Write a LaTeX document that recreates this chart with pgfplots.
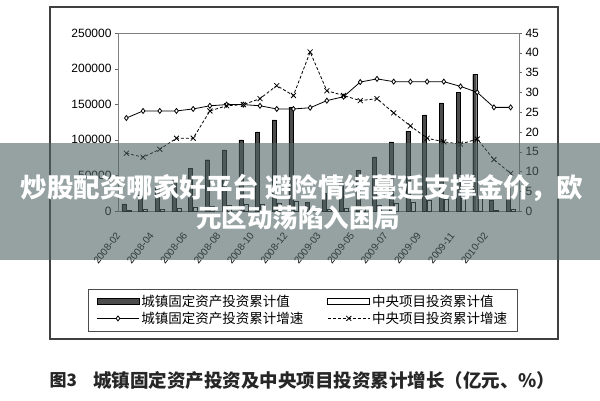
\documentclass[border=0pt]{standalone}
\usepackage{pgfplots}
\pgfplotsset{compat=1.18}
\usepackage{fontspec}
\setmainfont{Liberation Sans}
\newfontfamily\cjk{Noto Sans CJK SC}
\begin{document}
\begin{tikzpicture}
\fill[white] (0pt,0pt) rectangle (600pt,400pt);
\draw[line width=1.6pt, black!75] (50pt,61pt) rectangle (558pt,393pt);
\begin{axis}[
  at={(118pt,189pt)}, anchor=south west, scale only axis, width=401pt, height=178pt,
  xmin=-0.5, xmax=23.5, ymin=0, ymax=250000,
  ytick={0,50000,100000,150000,200000,250000},
  scaled y ticks=false,
  /pgf/number format/assume math mode=true,
  yticklabel style={/pgf/number format/fixed, /pgf/number format/1000 sep={}, font=\fontsize{12}{12}\selectfont},
  ytick pos=left,
  xtick={0,2,...,22},
  xticklabels={2008-02,2008-04,2008-06,2008-08,2008-10,2008-12,2009-03,2009-05,2009-07,2009-09,2009-11,2010-02},
  xtick pos=bottom,
  xtick style={draw=none},
  xticklabel style={font=\fontsize{10}{10}\selectfont, xshift=-6pt, yshift=-17pt, rotate=52, anchor=east},
  axis line style={black!50},
  ytick style={black!60},
  tick align=outside,
  major tick length=3pt,
]
\addplot[ybar, bar width=4pt, bar shift=-2.5pt, fill=black!70, draw=black] coordinates {
(0,10000) (1,22000) (2,33000) (3,46000) (4,60000) (5,72000) (6,86000) (7,100000) (8,111000) (9,128000) (10,146000) (11,12000) (12,25000) (13,40000) (14,57000) (15,76000) (16,97000) (17,112000) (18,135000) (19,152000) (20,167000) (21,192000) (22,15000) (23,32000)};
\addplot[ybar, bar width=4pt, bar shift=2.5pt, fill=white, draw=black] coordinates {
(0,900) (1,2000) (2,3000) (3,4100) (4,5400) (5,6500) (6,7700) (7,9000) (8,10000) (9,11500) (10,13100) (11,1300) (12,2800) (13,4400) (14,6300) (15,8400) (16,10700) (17,12300) (18,14900) (19,16700) (20,18400) (21,21100) (22,1400) (23,3000)};
\end{axis}
\begin{axis}[
  at={(118pt,189pt)}, anchor=south west, scale only axis, width=401pt, height=178pt,
  xmin=-0.5, xmax=23.5, ymin=0, ymax=45,
  axis x line=none, axis y line*=right,
  ytick={0,5,...,45},
  /pgf/number format/assume math mode=true,
  yticklabel style={font=\fontsize{12}{12}\selectfont},
  axis line style={black!50},
  ytick style={black!60},
  tick align=outside,
  major tick length=3pt,
  legend columns=2,
  legend cell align=left,
  legend style={at={(0.461,-0.556)}, anchor=center, draw=black!70, line width=0.8pt,
    font=\cjk\fontsize{13.5}{16}\selectfont, inner xsep=8pt, inner ysep=4pt,
    /tikz/every even column/.append style={column sep=22pt}},
  legend image code/.code={\draw[mark repeat=2,mark phase=2,#1] plot coordinates {(0pt,0pt) (21pt,0pt) (42pt,0pt)};},
]
\addlegendimage{legend image code/.code={\draw[fill=black!70, draw=black] (0pt,-3pt) rectangle (42pt,3pt);}}
\addlegendentry{城镇固定资产投资累计值}
\addlegendimage{legend image code/.code={\draw[fill=white, draw=black] (0pt,-3pt) rectangle (42pt,3pt);}}
\addlegendentry{中央项目投资累计值}
\addplot[black, line width=0.8pt, mark=diamond*, mark size=2.5pt, mark options={fill=white, solid}] coordinates {
(0,23.5) (1,25.3) (2,25.3) (3,25.3) (4,25.8) (5,26.6) (6,26.9) (7,26.9) (8,26.6) (9,25.8) (10,25.8) (11,26.1) (12,27.9) (13,28.9) (14,32.6) (15,33.4) (16,32.7) (17,32.7) (18,32.7) (19,32.7) (20,31.5) (21,30.0) (22,26.2) (23,26.2)};
\addlegendentry{城镇固定资产投资累计增速}
\addplot[black, line width=0.8pt, densely dashed, mark=x, mark size=3.5pt, mark options={solid}] coordinates {
(0,14.6) (1,13.6) (2,15.6) (3,18.4) (4,18.4) (5,25.3) (6,26.6) (7,26.9) (8,28.4) (9,31.7) (10,29.2) (11,40.2) (12,30.4) (13,29.2) (14,27.9) (15,28.4) (16,24.8) (17,21.5) (18,18.4) (19,17.5) (20,16.9) (21,18.2) (22,13.0) (23,9.5)};
\addlegendentry{中央项目投资累计增速}
\end{axis}
% overlay banner
\fill[fill={rgb,255:red,80;green,100;blue,100}, opacity=0.6] (0pt,140pt) rectangle (600pt,257pt);
\node[text=white, font=\cjk\bfseries\fontsize{26.5}{28}\selectfont] at (302pt,212pt) {炒股配资哪家好平台 避险情绪蔓延支撑金价，欧};
\node[text=white, font=\cjk\bfseries\fontsize{25.5}{27}\selectfont] at (298pt,182pt) {元区动荡陷入困局};
% caption
\node[anchor=west, font=\cjk\bfseries\fontsize{17}{19}\selectfont, text=black!85] at (46pt,20pt) {图3};
\node[anchor=west, font=\cjk\bfseries\fontsize{18.5}{20}\selectfont, text=black!85, inner sep=0pt] at (93pt,20pt) {城镇固定资产投资及中央项目投资累计增长（亿元、\%）};
\end{tikzpicture}
\end{document}
